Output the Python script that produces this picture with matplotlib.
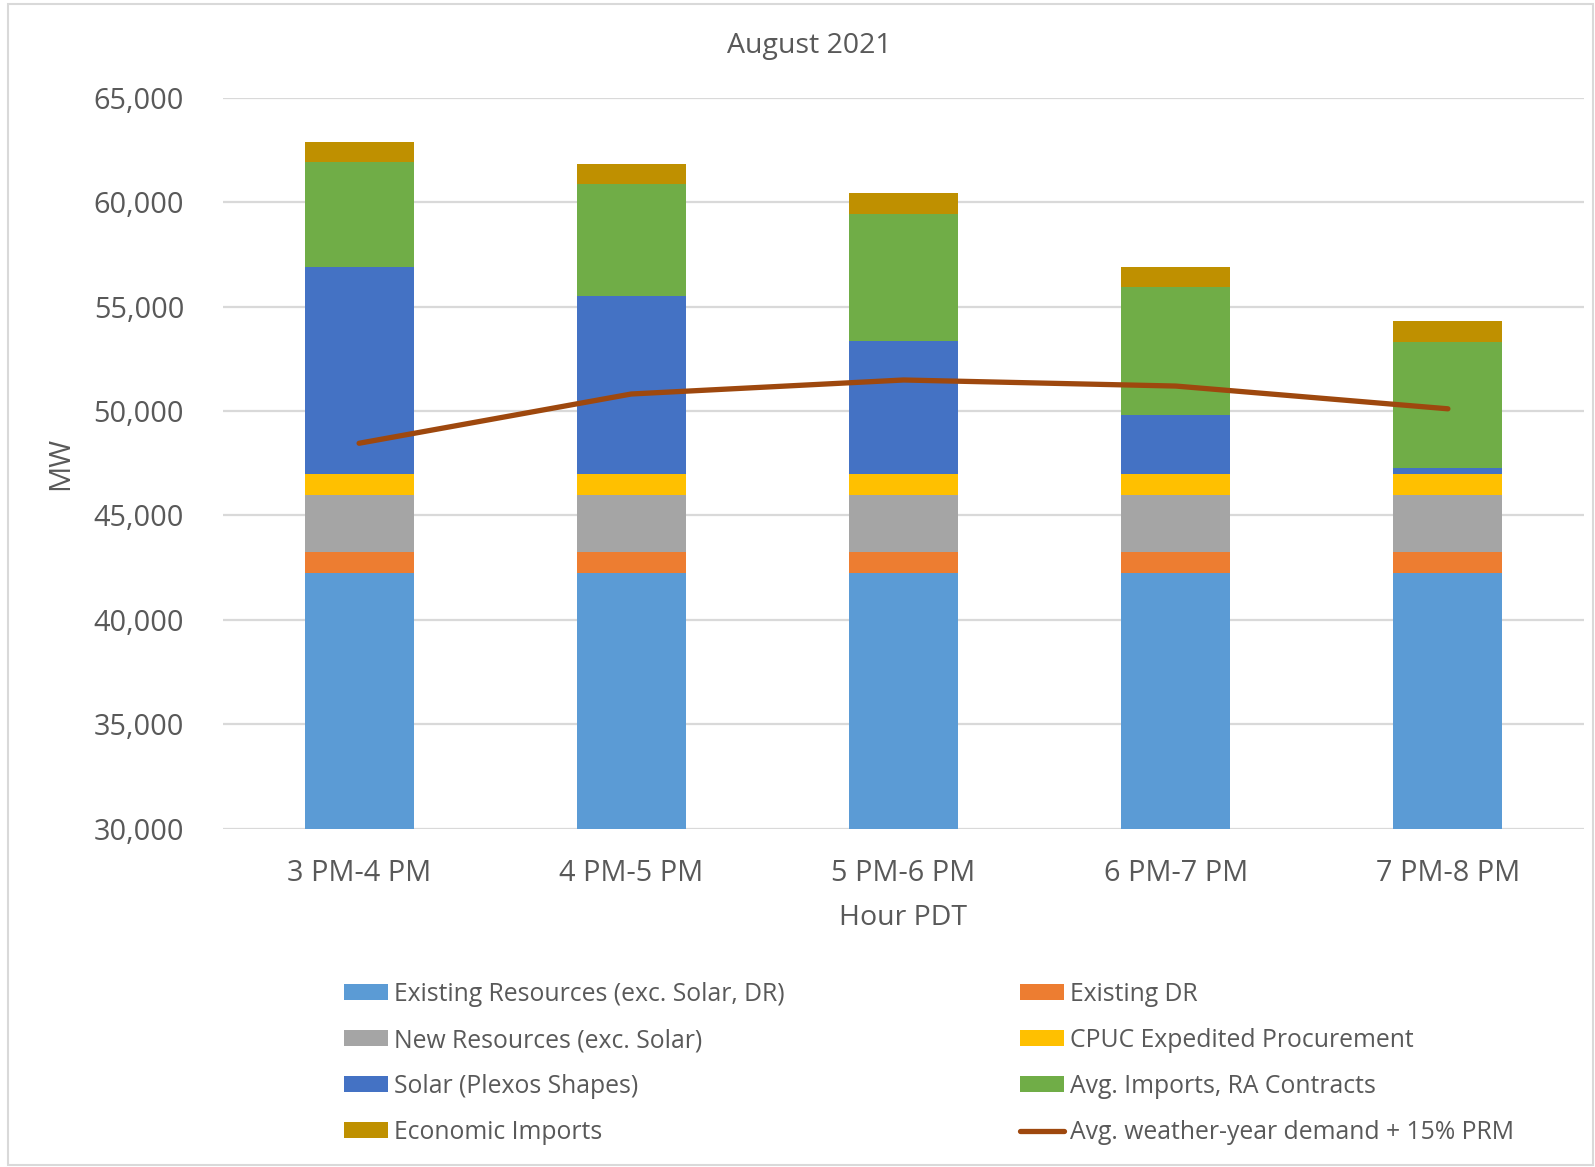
import matplotlib
matplotlib.use("Agg")
import matplotlib.pyplot as plt
import numpy as np
from matplotlib.patches import Patch, Rectangle
from matplotlib.lines import Line2D

hours = ["3 PM-4 PM", "4 PM-5 PM", "5 PM-6 PM", "6 PM-7 PM", "7 PM-8 PM"]
existing_resources = [42230, 42230, 42230, 42230, 42230]
existing_dr = [1020, 1020, 1020, 1020, 1020]
new_resources = [2740, 2740, 2740, 2740, 2740]
cpuc_expedited = [990, 990, 990, 990, 990]
solar_plexos = [9930, 8525, 6350, 2840, 270]
imports_ra = [5030, 5350, 6110, 6100, 6070]
economic_imports = [960, 975, 980, 985, 980]
demand_prm = [48450, 50810, 51480, 51190, 50100]

series = [
    ("Existing Resources (exc. Solar, DR)", existing_resources, "#5B9BD5"),
    ("Existing DR", existing_dr, "#ED7D31"),
    ("New Resources (exc. Solar)", new_resources, "#A5A5A5"),
    ("CPUC Expedited Procurement", cpuc_expedited, "#FFC000"),
    ("Solar (Plexos Shapes)", solar_plexos, "#4472C4"),
    ("Avg. Imports, RA Contracts", imports_ra, "#70AD47"),
    ("Economic Imports", economic_imports, "#BF9000"),
]
line_label = "Avg. weather-year demand + 15% PRM"
line_color = "#9E480E"

TXT = "#595959"
GRID = "#D9D9D9"
plt.rcParams['font.family'] = ['Open Sans', 'DejaVu Sans']

W, H = 1595, 1167
fig = plt.figure(figsize=(W / 100, H / 100), dpi=100)
ax = fig.add_axes([223 / W, 1 - 828.5 / H, (1584 - 223) / W, (828.5 - 97.7) / H])

x = np.arange(len(hours))
bottom = np.zeros(len(hours))
handles = {}
for label, vals, col in series:
    vals = np.array(vals, dtype=float)
    ax.bar(x, vals, width=0.4, bottom=bottom, color=col, zorder=3)
    bottom += vals
    handles[label] = Patch(facecolor=col, label=label)

ax.plot(x, demand_prm, color=line_color, lw=3.8, solid_capstyle='round', zorder=4)
handles[line_label] = Line2D([0], [0], color=line_color, lw=3.8, solid_capstyle='round')

ax.set_xlim(-0.5, len(hours) - 0.5)
ax.set_ylim(30000, 65000)
ax.set_yticks(np.arange(30000, 65001, 5000))
ax.yaxis.set_major_formatter(matplotlib.ticker.FuncFormatter(lambda v, p: f"{int(v):,}"))
ax.set_xticks(x)
ax.set_xticklabels(hours)
ax.tick_params(axis='both', length=0, labelsize=20.8, labelcolor=TXT)
ax.tick_params(axis='x', pad=22)
ax.tick_params(axis='y', pad=28)
ax.grid(axis='y', color=GRID, lw=1.6, zorder=0)
for s in ax.spines.values():
    s.set_visible(False)

fig.text(809 / W, 1 - 46 / H, "August 2021", ha='center', va='center', fontsize=20.5, color=TXT)
fig.text(61 / W, 1 - 463 / H, "MW", ha='center', va='center', rotation=90, fontsize=21, color=TXT)
fig.text(903 / W, 1 - 918 / H, "Hour PDT", ha='center', va='center', fontsize=20.5, color=TXT)

leg_font = dict(family=['Open Sans'], size=17.8)
col1 = [series[0][0], series[2][0], series[4][0], series[6][0]]
col2 = [series[1][0], series[3][0], series[5][0], line_label]
for xpos, labels in ((344, col1), (1020, col2)):
    leg = fig.legend([handles[l] for l in labels], labels, loc='upper left',
                     bbox_to_anchor=(xpos / W, 1 - 982 / H), frameon=False,
                     prop=leg_font, handlelength=1.78, handleheight=0.6,
                     handletextpad=0.25, labelspacing=0.85, borderaxespad=0,
                     borderpad=0)
    for t in leg.get_texts():
        t.set_color(TXT)

fig.add_artist(Rectangle((8 / W, 1 - 1165 / H), (W - 10) / W, (1165 - 4) / H,
                         transform=fig.transFigure, fill=False, edgecolor=GRID, lw=1.5))

fig.savefig("out.png", dpi=100, facecolor='white')
